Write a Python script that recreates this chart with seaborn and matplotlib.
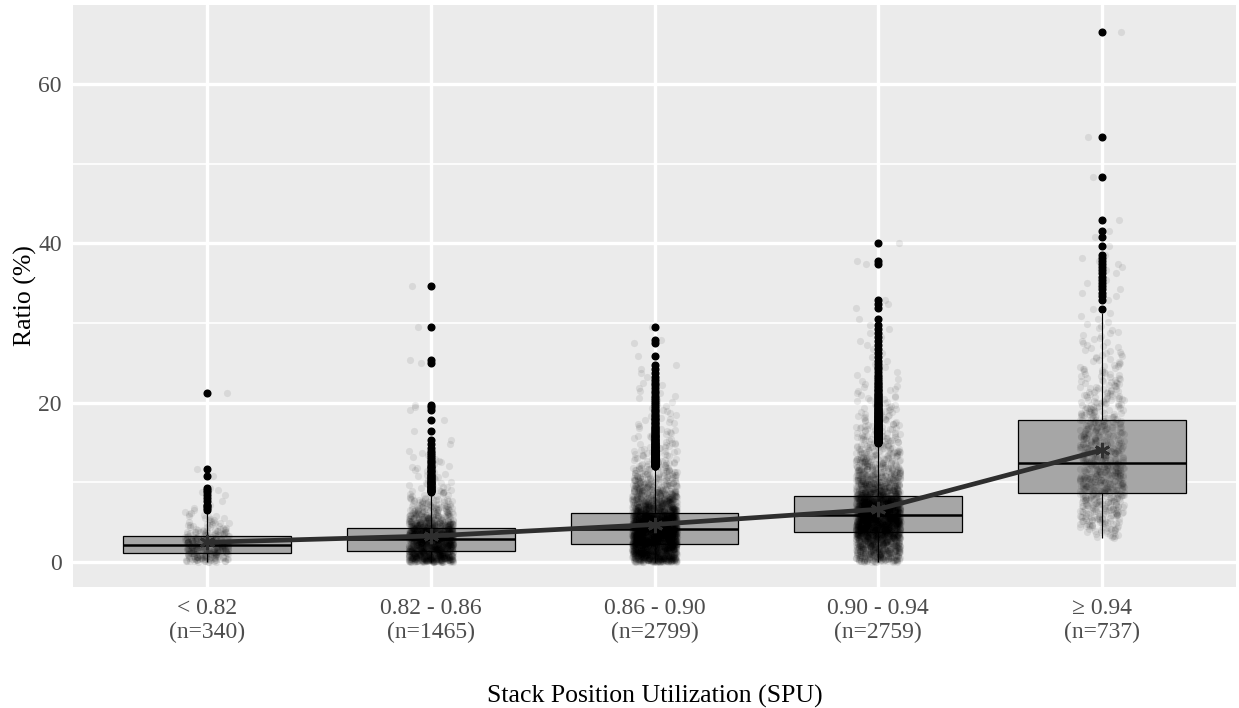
import numpy as np
import pandas as pd
import matplotlib
matplotlib.use("Agg")
import matplotlib.pyplot as plt
from matplotlib.ticker import MultipleLocator
import seaborn as sns

# ---------------- data ----------------
categories = ["< 0.82", "0.82 - 0.86", "0.86 - 0.90", "0.90 - 0.94", "\u2265 0.94"]
n_labels = ["(n=340)", "(n=1465)", "(n=2799)", "(n=2759)", "(n=737)"]

# first bin edge (Ratio %) of each group's 1-unit histogram
bin_start = [0, 0, 0, 0, 3]

# estimated number of observations per 1-unit Ratio bin
counts_lt082 = [72, 85, 80, 45, 20, 12]
counts_082_086 = [280, 240, 240, 280, 180, 90, 55, 35, 16, 10, 8, 6, 5, 4, 2]
counts_086_090 = [290, 310, 370, 400, 360, 330, 220, 150, 100, 70, 50, 35, 25,
                  18, 14, 10, 8, 6, 5, 4, 4, 3, 3, 2, 2]
counts_090_094 = [120, 150, 180, 290, 320, 330, 310, 290, 180, 130, 95, 70, 55,
                  42, 32, 25, 20, 15, 12, 10, 8, 6, 5, 3, 3, 2, 2, 2, 2, 2, 1]
counts_ge094 = [15, 25, 33, 38, 42, 48, 50, 50, 48, 44, 38, 35, 33, 31, 30,
                26, 23, 20, 17, 14, 12, 10, 8, 7, 6, 5, 4, 3, 2]

# individually readable high values (upper tail / outliers)
tail_lt082 = [6.1, 6.3, 6.5, 6.8, 7.0, 7.2, 7.6, 8.0, 8.4, 8.8, 9.0, 9.3,
              10.8, 11.7, 21.2]
tail_082_086 = [15.3, 16.4, 17.8, 19.1, 19.4, 19.7, 25.0, 25.3, 29.5, 34.6]
tail_086_090 = [25.8, 27.5, 27.8, 29.5]
tail_090_094 = [31.9, 32.4, 32.9, 37.4, 37.8, 40.0]
tail_ge094 = [32.9, 33.4, 33.8, 34.2, 34.6, 35.0, 35.4, 35.8, 36.2, 36.6, 37.0,
              37.4, 37.8, 38.2, 38.5, 39.6, 40.8, 41.5, 42.9, 48.3, 53.3, 66.5]

all_counts = [counts_lt082, counts_082_086, counts_086_090, counts_090_094, counts_ge094]
all_tails = [tail_lt082, tail_082_086, tail_086_090, tail_090_094, tail_ge094]

# observations: each bin's count placed evenly inside that bin
rows = []
for cat, start, cnts, tail in zip(categories, bin_start, all_counts, all_tails):
    for i, c in enumerate(cnts):
        lo = start + i
        vals = lo + (np.arange(c) + 0.5) / c
        rows.extend((cat, v) for v in vals)
    rows.extend((cat, v) for v in tail)
df = pd.DataFrame(rows, columns=["group", "ratio"])

# ---------------- style ----------------
sns.set_theme(style="darkgrid")
plt.rcParams["font.family"] = ["Liberation Serif", "DejaVu Serif"]
plt.rcParams["axes.facecolor"] = "#EBEBEB"
plt.rcParams["grid.color"] = "white"

fig = plt.figure(figsize=(12.39, 7.08), dpi=100)
ax = fig.add_axes([0.0589, 0.171, 0.9387, 0.822])
ax.set_facecolor("#EBEBEB")

np.random.seed(3)

sns.boxplot(data=df, x="group", y="ratio", order=categories, width=0.75,
            color="#A6A6A6", saturation=1, linecolor="black", linewidth=0.9,
            showcaps=False, fliersize=4.8,
            flierprops=dict(marker="o", markerfacecolor="black",
                            markeredgecolor="black"),
            medianprops=dict(linewidth=1.8, color="black"),
            ax=ax, zorder=2)

sns.stripplot(data=df, x="group", y="ratio", order=categories, jitter=0.1,
              color="black", alpha=0.08, size=5.2, linewidth=0, ax=ax, zorder=3)

sns.pointplot(data=df, x="group", y="ratio", order=categories, estimator="mean",
              errorbar=None, color="#2e2e2e", marker=(6, 2, 0), markersize=11,
              markeredgewidth=2.0, linewidth=3.4, ax=ax, zorder=4)

# ---------------- axes ----------------
ax.set_xlim(-0.6, 4.6)
ax.set_ylim(-3.14, 69.9)
ax.set_yticks([0, 20, 40, 60])
ax.yaxis.set_minor_locator(MultipleLocator(10))
ax.set_xticks(range(len(categories)))
ax.set_xticklabels([f"{c}\n{n}" for c, n in zip(categories, n_labels)],
                   linespacing=1.2)

ax.grid(which="major", axis="both", color="white", linewidth=2.4)
ax.grid(which="minor", axis="y", color="white", linewidth=1.2)
ax.set_axisbelow(True)
for s in ax.spines.values():
    s.set_visible(False)

ax.tick_params(axis="both", which="major", length=4, width=1, color="#333333",
               labelcolor="#4D4D4D", labelsize=17, pad=4)
ax.tick_params(axis="y", which="minor", length=0)

ax.set_xlabel("Stack Position Utilization (SPU)", fontsize=18.5, color="black",
              labelpad=30)
ax.set_ylabel("Ratio (%)", fontsize=18.5, color="black", labelpad=1)

fig.savefig("out.png", dpi=100)
